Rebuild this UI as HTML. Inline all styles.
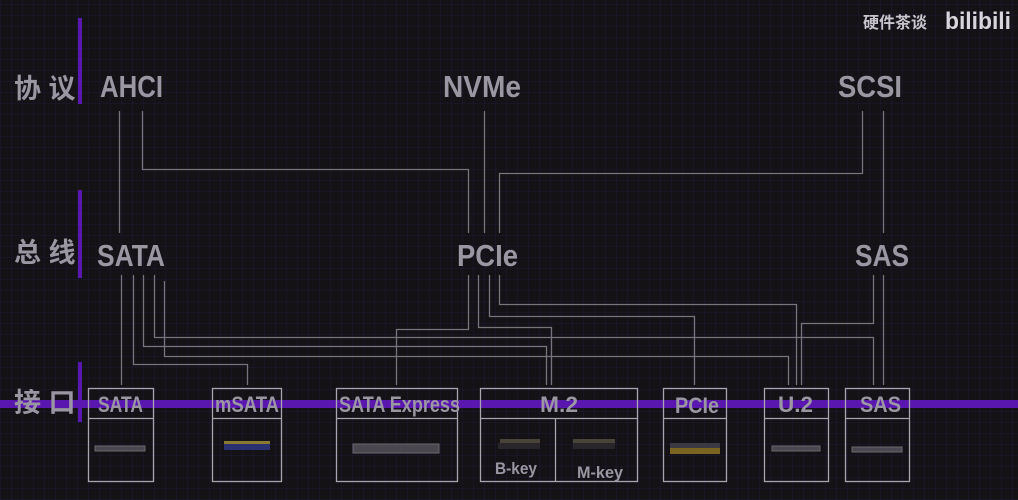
<!DOCTYPE html>
<html><head><meta charset="utf-8"><style>
html,body{margin:0;padding:0}
body{width:1018px;height:500px;overflow:hidden;background:#141215;
background-image:repeating-linear-gradient(90deg,rgba(40,35,90,.22) 0 1px,transparent 1px 11px),repeating-linear-gradient(0deg,rgba(40,35,90,.22) 0 1px,transparent 1px 11px);}
svg{position:absolute;left:0;top:0}
text{font-family:"Liberation Sans Narrow","Liberation Sans",sans-serif;font-weight:bold;fill:#9a97a2}
.cn{font-family:"Liberation Sans","Noto Sans CJK SC",sans-serif;font-weight:bold}
</style></head><body>
<svg width="1018" height="500" viewBox="0 0 1018 500">
<g stroke="#77747c" stroke-width="1.3" fill="none">
<path d="M119.5 111V233"/>
<path d="M142.5 111V169.5H468.5V233"/>
<path d="M484.5 111V233"/>
<path d="M862.5 111V173.5H499.5V233"/>
<path d="M883.5 111V233"/>
<path d="M121.5 275V385"/>
<path d="M133.5 275V364.5H247.5V385"/>
<path d="M143.5 275V346.5H546.5V385"/>
<path d="M154.5 275V337.5H873.5V385"/>
<path d="M164.5 281V356.5H788.5V385"/>
<path d="M468.5 275V329.5H396.5V385"/>
<path d="M478.5 275V327.5H551.5V385"/>
<path d="M489.5 275V316.5H694.5V385"/>
<path d="M499.5 275V304.5H796.5V385"/>
<path d="M873.5 275V323.5H801.5V385"/>
<path d="M883.5 275V385"/>
</g>
<rect x="0" y="400" width="1018" height="8" fill="#5a17b0"/>
<rect x="78" y="18" width="4" height="86" fill="#5a17b0"/>
<rect x="78" y="190" width="4" height="88" fill="#5a17b0"/>
<rect x="78" y="362" width="4" height="60" fill="#5a17b0"/>
<g stroke="#a8a5ae" stroke-width="1.3" fill="none">
<rect x="88.5" y="388.5" width="65" height="93"/><path d="M88 418.5H154"/>
<rect x="212.5" y="388.5" width="69" height="93"/><path d="M212 418.5H282"/>
<rect x="336.5" y="388.5" width="121" height="93"/><path d="M336 418.5H458"/>
<rect x="480.5" y="388.5" width="157" height="93"/><path d="M480 418.5H638M555.5 418V482"/>
<rect x="663.5" y="388.5" width="63" height="93"/><path d="M663 418.5H727"/>
<rect x="764.5" y="388.5" width="64" height="93"/><path d="M764 418.5H829"/>
<rect x="845.5" y="388.5" width="64" height="93"/><path d="M845 418.5H910"/>
</g>
<rect x="95" y="446" width="50" height="5" fill="#4a484e" stroke="#6a676e"/>
<rect x="224" y="441" width="46" height="3" fill="#8a7a30"/><rect x="224" y="444" width="46" height="6" fill="#2a3170"/>
<rect x="353" y="444" width="86" height="9" fill="#4a484e" stroke="#6a676e"/>
<rect x="500" y="439" width="40" height="4" fill="#4a4438"/><rect x="498" y="443" width="42" height="6" fill="#28262b"/>
<rect x="573" y="439" width="42" height="4" fill="#4a4438"/><rect x="573" y="443" width="42" height="6" fill="#28262b"/>
<rect x="670" y="443" width="50" height="5" fill="#3a3840"/><rect x="670" y="448" width="50" height="6" fill="#7a6520"/>
<rect x="772" y="446" width="48" height="5" fill="#4a484e" stroke="#6a676e"/>
<rect x="852" y="447" width="50" height="5" fill="#4a484e" stroke="#6a676e"/>
<g font-size="31">
<text x="100" y="97" textLength="63" lengthAdjust="spacingAndGlyphs">AHCI</text>
<text x="443" y="97" textLength="78" lengthAdjust="spacingAndGlyphs">NVMe</text>
<text x="838" y="97" textLength="64" lengthAdjust="spacingAndGlyphs">SCSI</text>
<text x="97" y="266" textLength="68" lengthAdjust="spacingAndGlyphs">SATA</text>
<text x="457" y="266" textLength="61" lengthAdjust="spacingAndGlyphs">PCIe</text>
<text x="855" y="266" textLength="54" lengthAdjust="spacingAndGlyphs">SAS</text>
</g>
<g font-size="22">
<text x="98" y="412" textLength="45" lengthAdjust="spacingAndGlyphs">SATA</text>
<text x="215" y="412" textLength="64" lengthAdjust="spacingAndGlyphs">mSATA</text>
<text x="339" y="412" textLength="121" lengthAdjust="spacingAndGlyphs">SATA Express</text>
<text x="540" y="412" textLength="38" lengthAdjust="spacingAndGlyphs">M.2</text>
<text x="675" y="413" textLength="44" lengthAdjust="spacingAndGlyphs">PCIe</text>
<text x="778" y="412" textLength="35" lengthAdjust="spacingAndGlyphs">U.2</text>
<text x="860" y="412" textLength="41" lengthAdjust="spacingAndGlyphs">SAS</text>
</g>
<g font-size="17">
<text x="495" y="474" textLength="42" lengthAdjust="spacingAndGlyphs">B-key</text>
<text x="577" y="478" textLength="46" lengthAdjust="spacingAndGlyphs">M-key</text>
</g>
<text class="cn" x="14" y="98" font-size="27">协 议</text>
<text class="cn" x="14" y="262" font-size="27">总 线</text>
<text class="cn" x="14" y="412" font-size="27">接 口</text>
<text class="cn" x="863" y="28" font-size="16" style="fill:#c8c6cc">硬件茶谈</text>
<text x="945" y="29" font-size="24" style="fill:#d8d6dc;font-family:'Liberation Sans',sans-serif" textLength="66" lengthAdjust="spacingAndGlyphs">bilibili</text>
</svg>
</body></html>
